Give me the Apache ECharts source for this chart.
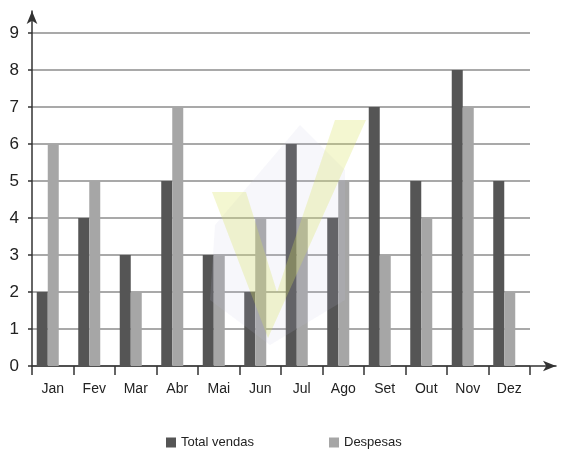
<!DOCTYPE html>
<html>
<head>
<meta charset="utf-8">
<script src="https://cdn.jsdelivr.net/npm/echarts@6/dist/echarts.min.js"></script>
<style>
  html, body { margin: 0; padding: 0; background: #fff; }
  #chart { width: 561px; height: 450px; }
</style>
</head>
<body>
<div id="chart"></div>
<script>
// dados do gráfico
var meses = ['Jan', 'Fev', 'Mar', 'Abr', 'Mai', 'Jun', 'Jul', 'Ago', 'Set', 'Out', 'Nov', 'Dez'];
var totalVendas = [2, 4, 3, 5, 3, 2, 6, 4, 7, 5, 8, 5];
var despesas = [6, 5, 2, 7, 3, 4, 4, 5, 3, 4, 7, 2];
var yTicks = [0, 1, 2, 3, 4, 5, 6, 7, 8, 9];

var chart = echarts.init(document.getElementById('chart'));
var fonte = '"Liberation Sans", Arial, sans-serif';

var option = {
  animation: false,
  backgroundColor: '#fff',
  textStyle: { fontFamily: fonte },
  // marca d'água (decoração)
  graphic: [
    {
      type: 'polygon', z: 100, silent: true,
      shape: { points: [[215, 225], [300, 125], [345, 170], [345, 300], [270, 345], [210, 300]] },
      style: { fill: 'rgba(190,195,225,0.13)' }
    },
    {
      type: 'polygon', z: 101, silent: true,
      shape: { points: [[212, 192], [246, 192], [277, 292], [335, 120], [366, 120], [268, 338]] },
      style: { fill: 'rgba(215,228,90,0.28)' }
    }
  ],
  legend: {
    left: 161, top: 431,
    itemWidth: 10, itemHeight: 10, itemGap: 75,
    icon: 'rect',
    textStyle: { fontSize: 13, color: '#222', fontFamily: fonte },
    data: ['Total vendas', 'Despesas']
  },
  grid: [
    { left: 32, right: 31, top: 33, bottom: 84 },
    { left: 32, right: 5, top: 11, bottom: 84 }
  ],
  xAxis: [
    {
      type: 'category', gridIndex: 0, data: meses,
      axisLine: { show: false },
      axisTick: { show: true, length: 9, lineStyle: { color: '#333', width: 1.5 } },
      axisLabel: { fontSize: 14, color: '#222', margin: 16, fontFamily: fonte },
      splitLine: { show: false }
    },
    {
      type: 'value', gridIndex: 1, min: 0, max: 1,
      axisLine: { show: true, symbol: ['none', 'arrow'], symbolSize: [8, 13], lineStyle: { color: '#333', width: 1.5 } },
      axisTick: { show: false }, axisLabel: { show: false }, splitLine: { show: false }
    }
  ],
  yAxis: [
    {
      type: 'value', gridIndex: 0, min: 0, max: 9, interval: 1,
      data: yTicks,
      axisLine: { show: false },
      axisTick: { show: true, length: 4, lineStyle: { color: '#333', width: 1.5 } },
      axisLabel: { fontSize: 17, color: '#222', margin: 13, fontFamily: fonte },
      splitLine: { show: true, lineStyle: { color: '#8c8c8c', width: 1.5 } }
    },
    {
      type: 'value', gridIndex: 1, min: 0, max: 1,
      axisLine: { show: true, symbol: ['none', 'arrow'], symbolSize: [8, 13], lineStyle: { color: '#333', width: 1.5 } },
      axisTick: { show: false }, axisLabel: { show: false }, splitLine: { show: false }
    }
  ],
  series: [
    {
      name: 'Total vendas', type: 'bar', xAxisIndex: 0, yAxisIndex: 0,
      data: totalVendas, barWidth: 11, barGap: '0%',
      itemStyle: { color: '#555555' }
    },
    {
      name: 'Despesas', type: 'bar', xAxisIndex: 0, yAxisIndex: 0,
      data: despesas, barWidth: 11, barGap: '0%',
      itemStyle: { color: '#a6a6a6' }
    },
    {
      // espaço vazio à direita: desloca o par de barras para a esquerda
      name: 'espaco', type: 'bar', xAxisIndex: 0, yAxisIndex: 0,
      data: [], barWidth: 10, barGap: '0%', silent: true
    }
  ]
};

chart.setOption(option);
</script>
</body>
</html>
